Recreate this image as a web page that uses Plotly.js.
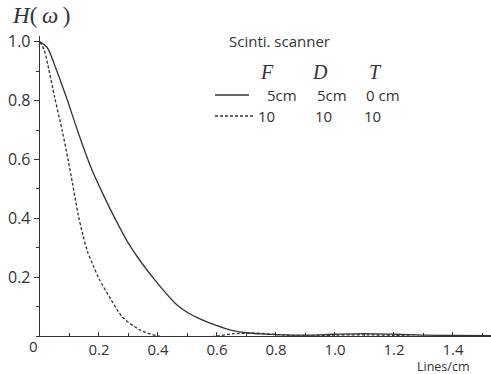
<!DOCTYPE html>
<html>
<head>
<meta charset="utf-8">
<script src="https://cdn.plot.ly/plotly-3.0.1.min.js"></script>
<style>html,body{margin:0;padding:0;background:#fff;}#chart{width:491px;height:374px;}</style>
</head>
<body>
<div id="chart"></div>
<script>
// Series: F=5cm D=5cm T=0cm (solid)
const solidX = [0, 0.025, 0.05, 0.09, 0.13, 0.17, 0.21, 0.254, 0.30, 0.34, 0.40, 0.46, 0.50, 0.55, 0.60, 0.65, 0.70, 0.75, 0.80, 0.90, 1.00, 1.10, 1.20, 1.30, 1.40, 1.53];
const solidY = [1.0, 0.98, 0.92, 0.81, 0.69, 0.58, 0.49, 0.40, 0.315, 0.255, 0.177, 0.11, 0.08, 0.055, 0.035, 0.019, 0.011, 0.007, 0.005, 0.003, 0.006, 0.008, 0.006, 0.003, 0.002, 0.001];
// Series: F=10 D=10 T=10 (dashed)
const dashX = [0, 0.015, 0.027, 0.05, 0.075, 0.095, 0.11, 0.13, 0.145, 0.16, 0.18, 0.20, 0.24, 0.28, 0.34, 0.40, 0.45, 0.53, 0.60, 0.65, 0.73, 0.80, 0.90, 1.00, 1.10, 1.20, 1.30, 1.40, 1.53];
const dashY = [1.0, 0.97, 0.92, 0.81, 0.70, 0.60, 0.52, 0.41, 0.345, 0.29, 0.24, 0.195, 0.125, 0.064, 0.02, 0.0, -0.006, -0.009, 0.0, 0.007, 0.01, 0.005, 0.0, 0.003, 0.004, 0.002, -0.002, -0.003, -0.002];

const xTickVals = [0.2, 0.4, 0.6, 0.8, 1.0, 1.2, 1.4];
const xTickText = ['0.2', '0.4', '0.6', '0.8', '1.0', '1.2', '1.4'];
const yTickVals = [0.2, 0.4, 0.6, 0.8, 1.0];
const yTickText = ['0.2', '0.4', '0.6', '0.8', '1.0'];

const legendHeader = 'Scinti. scanner';
const legendCols = ['F', 'D', 'T'];
const solidLabels = ['5cm', '5cm', '0 cm'];
const dashLabels = ['10', '10', '10'];

// layout geometry (pixels)
const W = 491, H = 374, L = 40, R = 0, T = 36, B = 38;
const pw = W - L - R, ph = H - T - B;
const px = x => (x - L) / pw;
const py = y => (H - B - y) / ph;

const ink = '#333';
const sans = 'Open Sans, Liberation Sans, sans-serif';
const serif = 'Liberation Serif, DejaVu Serif, serif';

const traces = [
  {x: solidX, y: solidY, mode: 'lines', line: {color: ink, width: 1.3, shape: 'spline', smoothing: 0.8}, showlegend: false, hoverinfo: 'skip'},
  {x: dashX, y: dashY, mode: 'lines', line: {color: ink, width: 1.3, dash: '3px,2px', shape: 'spline', smoothing: 0.8}, showlegend: false, hoverinfo: 'skip'}
];

function note(text, x, y, font) {
  return {text: text, x: px(x), y: py(y), xref: 'paper', yref: 'paper', xanchor: 'center', yanchor: 'middle', showarrow: false, font: font};
}
const sansFont = {family: sans, size: 15, color: ink};
const colX = [267, 320, 375];
const solidLX = [282, 332, 383];
const dashLX = [266, 323, 372];
const axisNote = note('Lines/cm', 443, 366, {family: sans, size: 12.5, color: ink});
axisNote.borderpad = 0;
const annotations = [
  note(legendHeader, 279, 41, sansFont),
  axisNote,
  note('0', 33, 346, {family: sans, size: 15, color: ink})
];
legendCols.forEach((c, i) => annotations.push(note('<i>' + c + '</i>', colX[i], 72, {family: serif, size: 20, color: ink})));
solidLabels.forEach((t, i) => annotations.push(note(t, solidLX[i], 95, sansFont)));
dashLabels.forEach((t, i) => annotations.push(note(t, dashLX[i], 116, sansFont)));

const shapes = [
  {type: 'line', xref: 'paper', yref: 'paper', x0: px(215), x1: px(249), y0: py(95), y1: py(95), line: {color: ink, width: 1.3}},
  {type: 'line', xref: 'paper', yref: 'paper', x0: px(215), x1: px(254), y0: py(116), y1: py(116), line: {color: ink, width: 1.3, dash: '3px,2px'}}
];

const layout = {
  width: W, height: H,
  margin: {l: L, r: R, t: T, b: B, pad: 0},
  paper_bgcolor: '#fff', plot_bgcolor: '#fff',
  title: {text: '<i>H</i>(\u2009<i>ω</i>\u2009)', xref: 'container', yref: 'container', x: 13 / W, xanchor: 'left', y: 1 - 15 / H, yanchor: 'middle', font: {family: serif, size: 23, color: ink}},
  xaxis: {range: [0, 1.529], showgrid: false, zeroline: false, showline: true, linecolor: ink, linewidth: 1.3,
    tickmode: 'array', tickvals: xTickVals, ticktext: xTickText, ticks: 'inside', ticklen: 4, tickcolor: ink, tickwidth: 1,
    minor: {dtick: 0.1, tick0: 0, ticks: 'inside', ticklen: 3, tickcolor: ink, showgrid: false},
    tickfont: {family: sans, size: 15, color: ink}, fixedrange: true},
  yaxis: {range: [0, 1.02], showgrid: false, zeroline: false, showline: true, linecolor: ink, linewidth: 1.3,
    tickmode: 'array', tickvals: yTickVals, ticktext: yTickText, ticks: 'outside', ticklen: 5, tickcolor: ink, tickwidth: 1,
    minor: {dtick: 0.1, tick0: 0, ticks: 'outside', ticklen: 3, tickcolor: ink, showgrid: false},
    tickfont: {family: sans, size: 16, color: ink}, fixedrange: true},
  annotations: annotations,
  shapes: shapes,
  showlegend: false
};

Plotly.newPlot('chart', traces, layout, {staticPlot: true, displayModeBar: false});
</script>
</body>
</html>
